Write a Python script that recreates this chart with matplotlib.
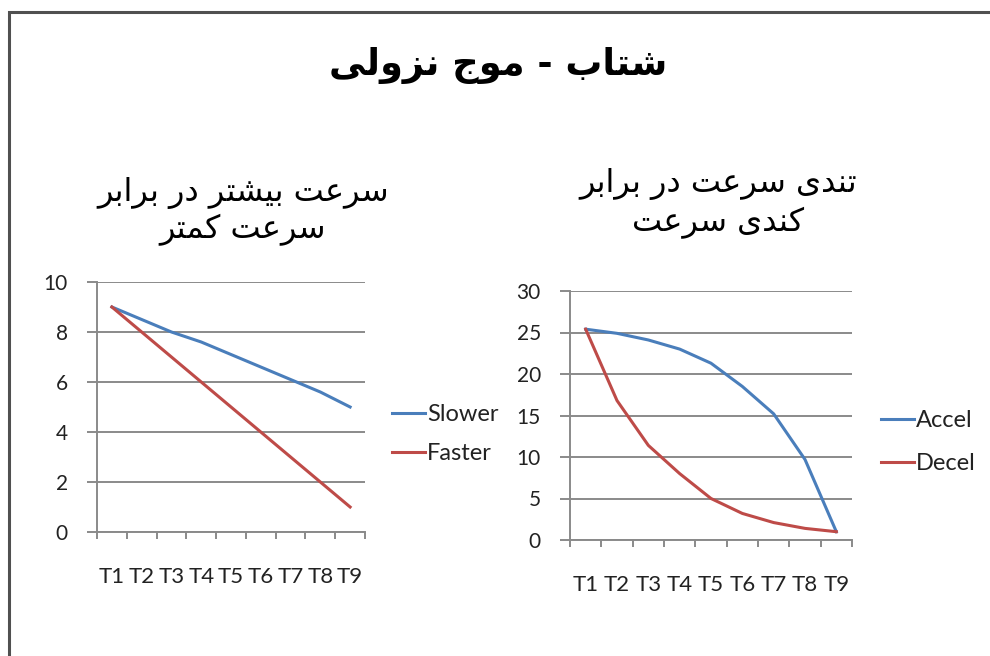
import matplotlib.pyplot as plt
from matplotlib.patches import Rectangle

# data
categories = ["T1", "T2", "T3", "T4", "T5", "T6", "T7", "T8", "T9"]
slower = [9.0, 8.5, 8.0, 7.6, 7.1, 6.6, 6.1, 5.6, 5.0]
faster = [9.0, 8.0, 7.0, 6.0, 5.0, 4.0, 3.0, 2.0, 1.0]
accel = [25.4, 24.9, 24.1, 23.0, 21.3, 18.5, 15.2, 9.7, 1.0]
decel = [25.4, 16.8, 11.4, 8.0, 5.0, 3.2, 2.1, 1.4, 1.0]

title = "شتاب - موج نزولی"
left_title = ["سرعت بیشتر در برابر", "سرعت کمتر"]
right_title = ["تندی سرعت در برابر", "کندی سرعت"]

# matplotlib has no arabic shaping, so pick presentation forms by hand
# (isolated, final, initial, medial); None = letter does not join forward
FORMS = {
    "\u0627": ("\ufe8d", "\ufe8e", None, None),
    "\u0628": ("\ufe8f", "\ufe90", "\ufe91", "\ufe92"),
    "\u062a": ("\ufe95", "\ufe96", "\ufe97", "\ufe98"),
    "\u062c": ("\ufe9d", "\ufe9e", "\ufe9f", "\ufea0"),
    "\u062f": ("\ufea9", "\ufeaa", None, None),
    "\u0631": ("\ufead", "\ufeae", None, None),
    "\u0632": ("\ufeaf", "\ufeb0", None, None),
    "\u0633": ("\ufeb1", "\ufeb2", "\ufeb3", "\ufeb4"),
    "\u0634": ("\ufeb5", "\ufeb6", "\ufeb7", "\ufeb8"),
    "\u0639": ("\ufec9", "\ufeca", "\ufecb", "\ufecc"),
    "\u0644": ("\ufedd", "\ufede", "\ufedf", "\ufee0"),
    "\u0645": ("\ufee1", "\ufee2", "\ufee3", "\ufee4"),
    "\u0646": ("\ufee5", "\ufee6", "\ufee7", "\ufee8"),
    "\u0648": ("\ufeed", "\ufeee", None, None),
    "\u06a9": ("\ufb8e", "\ufb8f", "\ufb90", "\ufb91"),
    "\u06cc": ("\ufbfc", "\ufbfd", "\ufbfe", "\ufbff"),
}


def shape(line):
    out = []
    for i, ch in enumerate(line):
        if ch not in FORMS:
            out.append(ch)
            continue
        prev = line[i - 1] if i > 0 else ""
        nxt = line[i + 1] if i + 1 < len(line) else ""
        pj = prev in FORMS and FORMS[prev][2] is not None
        nj = FORMS[ch][2] is not None and nxt in FORMS
        iso, fin, ini, med = FORMS[ch]
        if pj and nj:
            out.append(med)
        elif pj:
            out.append(fin)
        elif nj:
            out.append(ini)
        else:
            out.append(iso)
    return "".join(reversed(out))


blue = "#4a7ebb"
red = "#be4b48"
grid_c = "#8a8a8a"
txt_c = "#222222"
tick_font = "Lato"

fig = plt.figure(figsize=(9.9, 6.56), dpi=100)
fig.patches.append(Rectangle((9 / 990, -0.1), 1.2, 1 - 12 / 656 + 0.1, transform=fig.transFigure,
                             fill=False, edgecolor="#505050", linewidth=2.2))

fig.text(0.503, 1 - 65 / 656, shape(title), ha="center", va="center",
         fontsize=26.5, fontweight="bold", family="DejaVu Sans")
for i, ln in enumerate(left_title):
    fig.text(243 / 990, 1 - (193 + 37 * i) / 656, shape(ln), ha="center", va="center",
             fontsize=23, family="DejaVu Sans")
for i, ln in enumerate(right_title):
    fig.text(718 / 990, 1 - (184 + 39 * i) / 656, shape(ln), ha="center", va="center",
             fontsize=23, family="DejaVu Sans")


def style(ax, ymax, ystep):
    x = list(range(1, len(categories) + 1))
    ax.set_xlim(0.5, len(categories) + 0.5)
    ax.set_ylim(0, ymax)
    ax.set_yticks(range(0, ymax + 1, ystep))
    ax.set_xticks(x)
    ax.set_xticklabels(categories, family=tick_font, fontsize=16, color=txt_c)
    ax.set_xticks([v + 0.5 for v in range(len(categories) + 1)], minor=True)
    ax.tick_params(axis="x", which="major", length=0, pad=25)
    ax.tick_params(axis="x", which="minor", length=5, width=1.4, color=grid_c)
    ax.tick_params(axis="y", length=7, width=1.4, color=grid_c, pad=14, labelsize=15, labelcolor=txt_c)
    for lab in ax.get_yticklabels():
        lab.set_family(tick_font)
    ax.grid(axis="y", color=grid_c, linewidth=1.4)
    ax.set_axisbelow(True)
    for s in ["top", "right"]:
        ax.spines[s].set_visible(False)
    for s in ["left", "bottom"]:
        ax.spines[s].set_color(grid_c)
        ax.spines[s].set_linewidth(1.4)
    return x


ax1 = fig.add_axes([97 / 990, 1 - 532 / 656, 268 / 990, 250 / 656])
x = style(ax1, 10, 2)
ax1.plot(x, slower, color=blue, linewidth=2.2, label="Slower")
ax1.plot(x, faster, color=red, linewidth=2.2, label="Faster")
ax1.legend(loc="center left", bbox_to_anchor=(380 / 990, 1 - 434 / 656), bbox_transform=fig.transFigure,
           frameon=False, handlelength=1.4, handletextpad=0.1, labelspacing=0.75, borderpad=0,
           labelcolor=txt_c, prop={"family": tick_font, "size": 17})

ax2 = fig.add_axes([570 / 990, 1 - 540 / 656, 282 / 990, 249 / 656])
x = style(ax2, 30, 5)
ax2.plot(x, accel, color=blue, linewidth=2.2, label="Accel")
ax2.plot(x, decel, color=red, linewidth=2.2, label="Decel")
ax2.legend(loc="center left", bbox_to_anchor=(869 / 990, 1 - 442 / 656), bbox_transform=fig.transFigure,
           frameon=False, handlelength=1.4, handletextpad=0.1, labelspacing=0.95, borderpad=0,
           labelcolor=txt_c, prop={"family": tick_font, "size": 17})

fig.savefig("out.png", dpi=100)
